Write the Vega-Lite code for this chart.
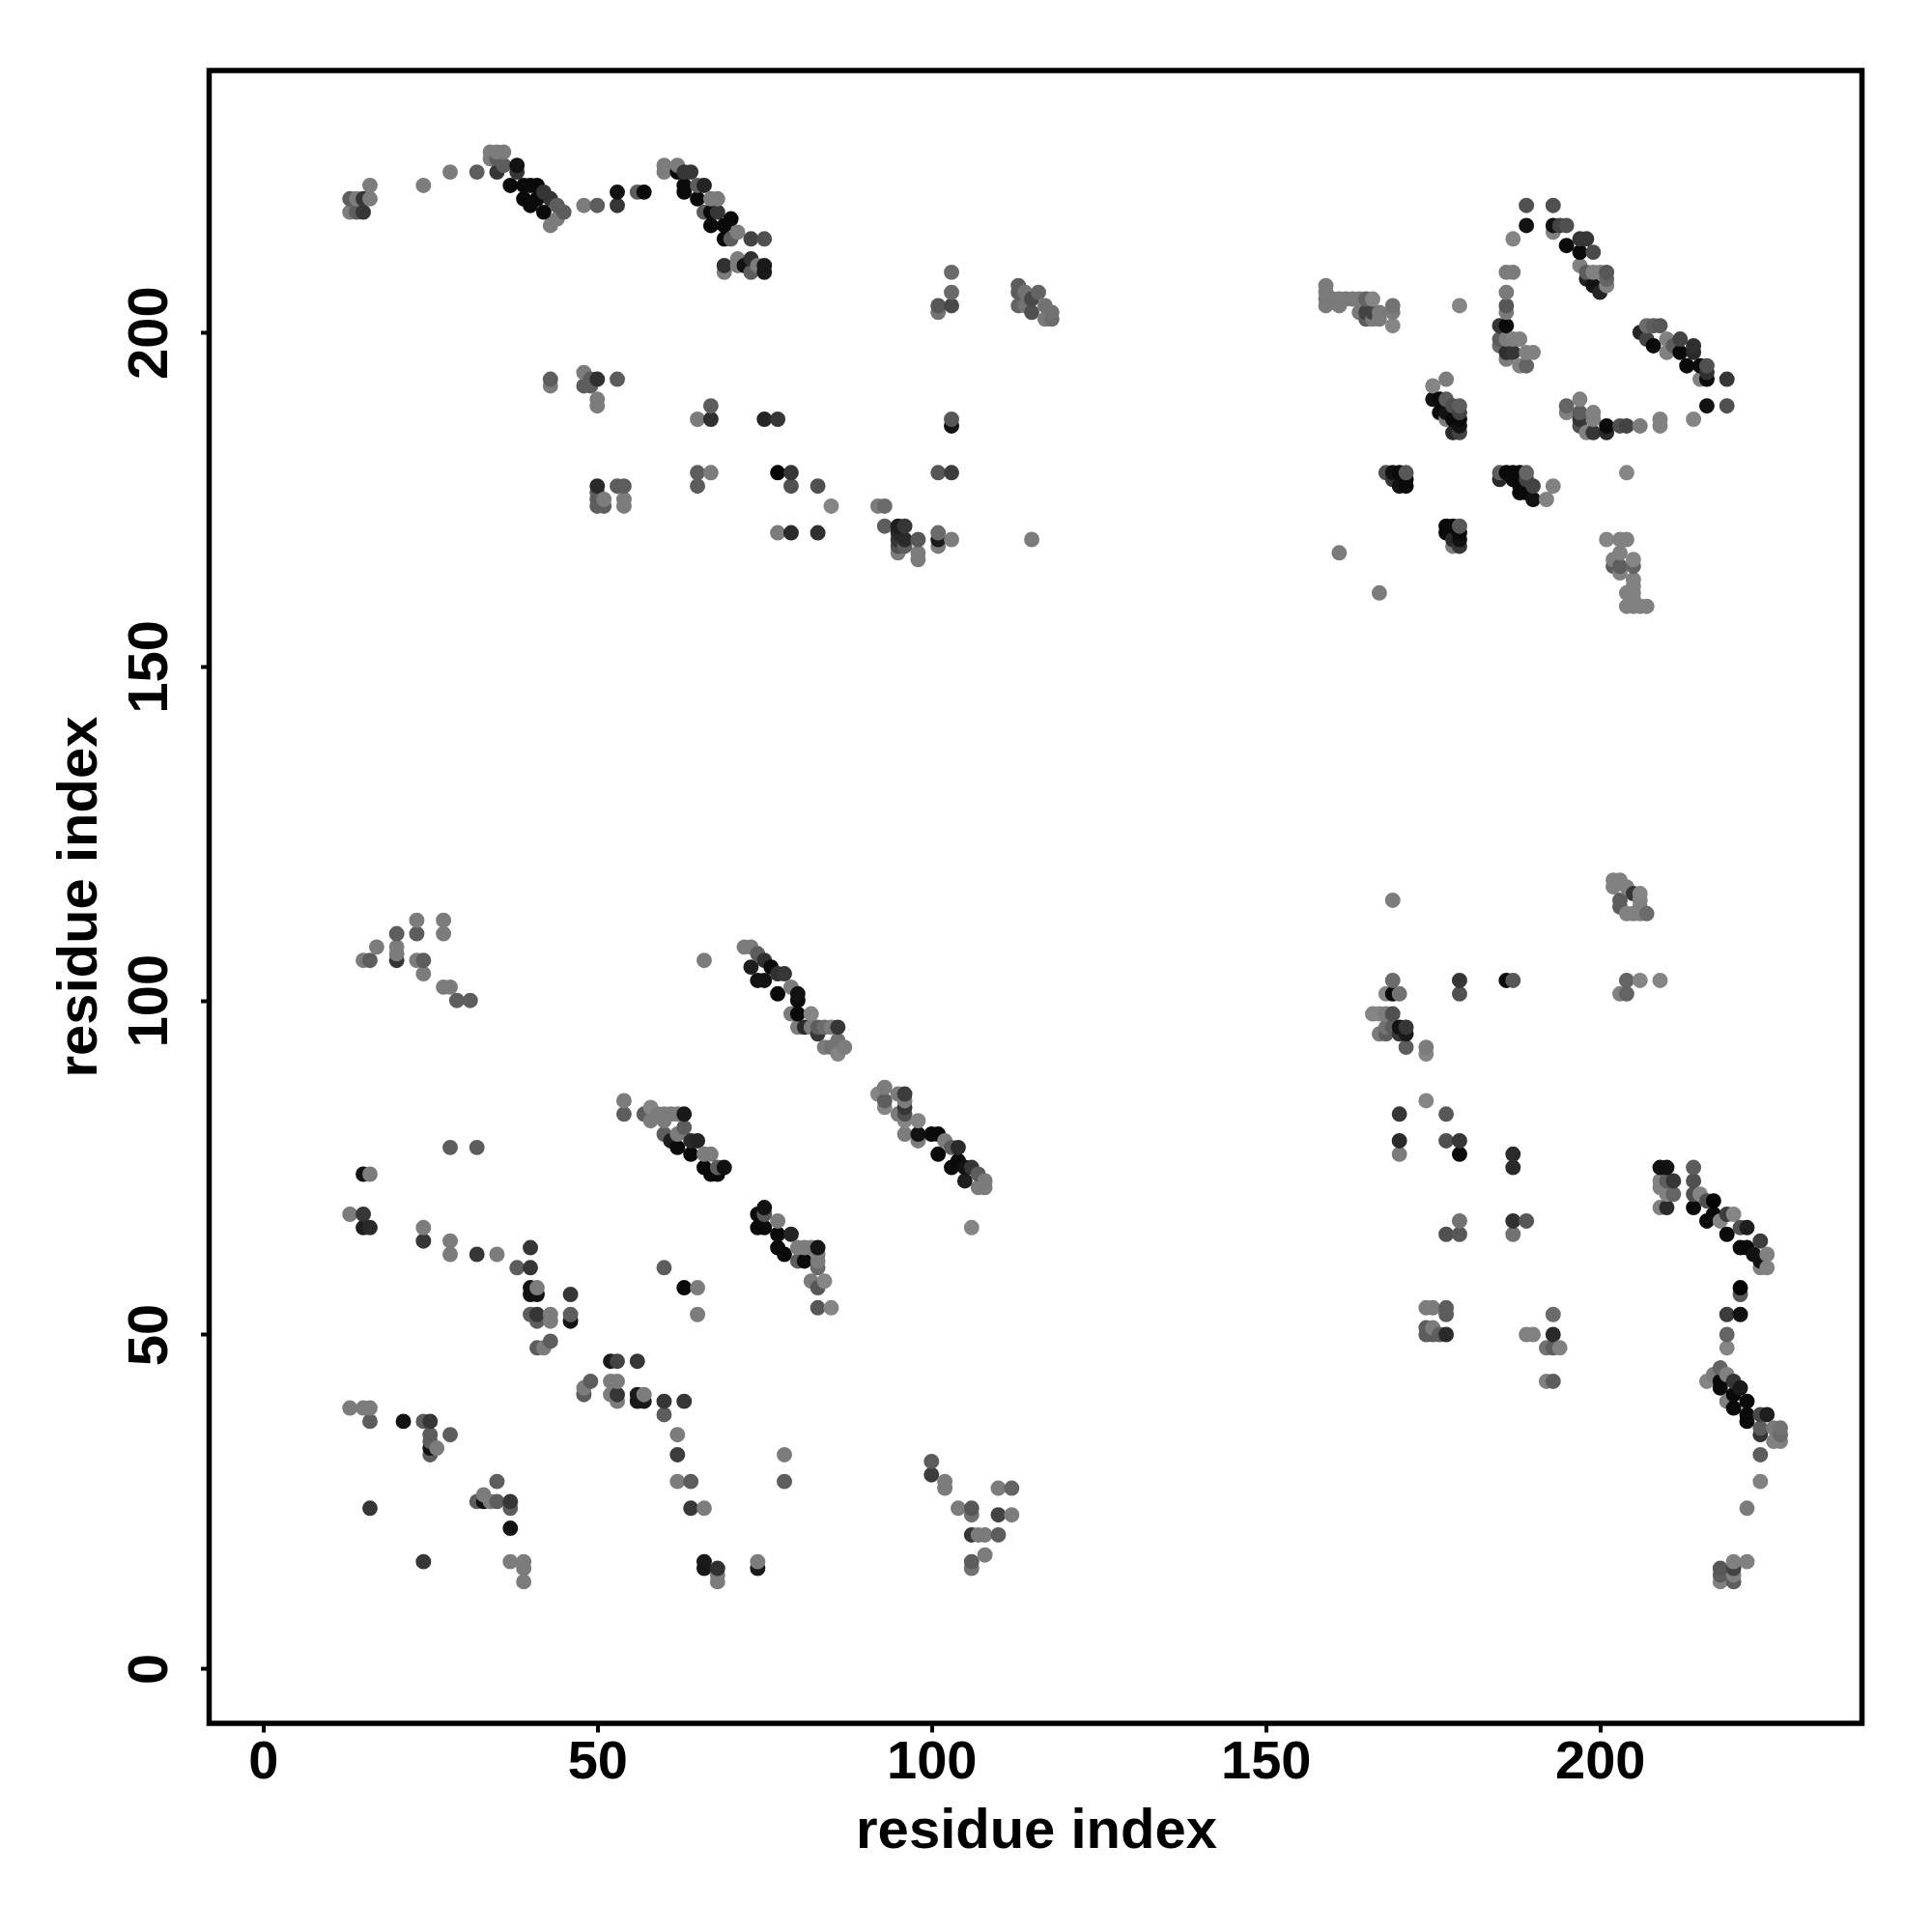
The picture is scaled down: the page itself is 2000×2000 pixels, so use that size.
{"$schema":"https://vega.github.io/schema/vega-lite/v6.json","width":1711,"height":1711,"autosize":"none","padding":{"left":216.5,"top":73,"right":72.5,"bottom":216},"background":"white","config":{"view":{"stroke":"#000000","strokeWidth":5.5,"fill":"white"}},"data":{"values":[
{"i":13,"j":39,"w":0.08},{"i":13,"j":68,"w":0.08},{"i":13,"j":218,"w":0.08},{"i":13,"j":220,"w":0.3},
{"i":14,"j":218,"w":0.3},{"i":14,"j":220,"w":0.08},
{"i":15,"j":39,"w":0.08},{"i":15,"j":66,"w":0.8},{"i":15,"j":68,"w":0.6},{"i":15,"j":74,"w":0.9},{"i":15,"j":106,"w":0.08},{"i":15,"j":218,"w":0.6},{"i":15,"j":220,"w":0.6},
{"i":16,"j":24,"w":0.6},{"i":16,"j":37,"w":0.3},{"i":16,"j":39,"w":0.08},{"i":16,"j":66,"w":0.7},{"i":16,"j":74,"w":0.08},{"i":16,"j":106,"w":0.3},{"i":16,"j":220,"w":0.08},{"i":16,"j":222,"w":0.08},
{"i":17,"j":108,"w":0.08},
{"i":20,"j":106,"w":0.6},{"i":20,"j":107,"w":0.08},{"i":20,"j":108,"w":0.08},{"i":20,"j":110,"w":0.3},
{"i":21,"j":37,"w":0.9},
{"i":23,"j":106,"w":0.08},{"i":23,"j":110,"w":0.3},{"i":23,"j":112,"w":0.08},
{"i":24,"j":16,"w":0.6},{"i":24,"j":37,"w":0.3},{"i":24,"j":64,"w":0.6},{"i":24,"j":66,"w":0.08},{"i":24,"j":104,"w":0.08},{"i":24,"j":106,"w":0.3},{"i":24,"j":222,"w":0.08},
{"i":25,"j":32,"w":0.3},{"i":25,"j":33,"w":0.9},{"i":25,"j":34,"w":0.3},{"i":25,"j":35,"w":0.3},{"i":25,"j":37,"w":0.6},
{"i":26,"j":33,"w":0.08},
{"i":27,"j":102,"w":0.08},{"i":27,"j":110,"w":0.08},{"i":27,"j":112,"w":0.08},
{"i":28,"j":35,"w":0.3},{"i":28,"j":62,"w":0.08},{"i":28,"j":64,"w":0.08},{"i":28,"j":78,"w":0.3},{"i":28,"j":102,"w":0.08},{"i":28,"j":224,"w":0.08},
{"i":29,"j":100,"w":0.3},
{"i":31,"j":100,"w":0.3},
{"i":32,"j":25,"w":0.3},{"i":32,"j":62,"w":0.6},{"i":32,"j":78,"w":0.3},{"i":32,"j":224,"w":0.3},
{"i":33,"j":25,"w":0.9},{"i":33,"j":26,"w":0.08},
{"i":34,"j":25,"w":0.08},{"i":34,"j":226,"w":0.08},{"i":34,"j":227,"w":0.08},
{"i":35,"j":25,"w":0.3},{"i":35,"j":28,"w":0.3},{"i":35,"j":62,"w":0.08},{"i":35,"j":224,"w":0.6},{"i":35,"j":226,"w":0.3},{"i":35,"j":227,"w":0.08},
{"i":36,"j":225,"w":0.3},{"i":36,"j":227,"w":0.08},
{"i":37,"j":16,"w":0.08},{"i":37,"j":21,"w":0.9},{"i":37,"j":24,"w":0.3},{"i":37,"j":25,"w":0.6},{"i":37,"j":222,"w":0.95},
{"i":38,"j":60,"w":0.3},{"i":38,"j":224,"w":0.6},{"i":38,"j":225,"w":0.9},
{"i":39,"j":13,"w":0.08},{"i":39,"j":15,"w":0.08},{"i":39,"j":16,"w":0.08},{"i":39,"j":220,"w":0.95},{"i":39,"j":222,"w":0.95},
{"i":40,"j":53,"w":0.3},{"i":40,"j":56,"w":0.9},{"i":40,"j":57,"w":0.9},{"i":40,"j":60,"w":0.6},{"i":40,"j":63,"w":0.6},{"i":40,"j":219,"w":0.95},{"i":40,"j":222,"w":0.95},
{"i":41,"j":48,"w":0.3},{"i":41,"j":52,"w":0.3},{"i":41,"j":53,"w":0.6},{"i":41,"j":56,"w":0.9},{"i":41,"j":57,"w":0.08},{"i":41,"j":220,"w":0.95},{"i":41,"j":222,"w":0.95},
{"i":42,"j":48,"w":0.08},{"i":42,"j":218,"w":0.95},{"i":42,"j":221,"w":0.6},
{"i":43,"j":49,"w":0.3},{"i":43,"j":52,"w":0.08},{"i":43,"j":53,"w":0.08},{"i":43,"j":192,"w":0.08},{"i":43,"j":193,"w":0.3},{"i":43,"j":216,"w":0.08},{"i":43,"j":220,"w":0.6},
{"i":44,"j":217,"w":0.08},{"i":44,"j":219,"w":0.3},
{"i":45,"j":218,"w":0.3},
{"i":46,"j":52,"w":0.9},{"i":46,"j":53,"w":0.3},{"i":46,"j":56,"w":0.6},
{"i":48,"j":41,"w":0.3},{"i":48,"j":42,"w":0.08},{"i":48,"j":192,"w":0.3},{"i":48,"j":194,"w":0.08},{"i":48,"j":219,"w":0.08},
{"i":49,"j":43,"w":0.3},{"i":49,"j":192,"w":0.3},{"i":49,"j":193,"w":0.3},
{"i":50,"j":174,"w":0.3},{"i":50,"j":175,"w":0.3},{"i":50,"j":176,"w":0.3},{"i":50,"j":177,"w":0.7},{"i":50,"j":189,"w":0.08},{"i":50,"j":190,"w":0.08},{"i":50,"j":193,"w":0.65},{"i":50,"j":219,"w":0.3},
{"i":51,"j":174,"w":0.3},{"i":51,"j":175,"w":0.08},
{"i":52,"j":41,"w":0.08},{"i":52,"j":43,"w":0.08},{"i":52,"j":46,"w":0.85},
{"i":53,"j":40,"w":0.08},{"i":53,"j":41,"w":0.6},{"i":53,"j":43,"w":0.08},{"i":53,"j":46,"w":0.5},{"i":53,"j":177,"w":0.3},{"i":53,"j":193,"w":0.3},{"i":53,"j":219,"w":0.6},{"i":53,"j":221,"w":0.9},
{"i":54,"j":83,"w":0.3},{"i":54,"j":85,"w":0.08},{"i":54,"j":174,"w":0.08},{"i":54,"j":175,"w":0.08},{"i":54,"j":177,"w":0.3},
{"i":56,"j":40,"w":0.85},{"i":56,"j":41,"w":0.85},{"i":56,"j":46,"w":0.6},{"i":56,"j":221,"w":0.3},
{"i":57,"j":40,"w":0.85},{"i":57,"j":41,"w":0.08},{"i":57,"j":83,"w":0.3},{"i":57,"j":221,"w":0.95},
{"i":58,"j":82,"w":0.08},{"i":58,"j":84,"w":0.02},
{"i":59,"j":83,"w":0.08},
{"i":60,"j":38,"w":0.3},{"i":60,"j":40,"w":0.6},{"i":60,"j":60,"w":0.3},{"i":60,"j":80,"w":0.3},{"i":60,"j":82,"w":0.08},{"i":60,"j":83,"w":0.08},{"i":60,"j":224,"w":0.08},{"i":60,"j":225,"w":0.08},
{"i":61,"j":79,"w":0.8},{"i":61,"j":83,"w":0.08},
{"i":62,"j":28,"w":0.08},{"i":62,"j":32,"w":0.55},{"i":62,"j":35,"w":0.08},{"i":62,"j":78,"w":0.95},{"i":62,"j":80,"w":0.08},{"i":62,"j":83,"w":0.08},{"i":62,"j":224,"w":0.95},{"i":62,"j":225,"w":0.08},
{"i":63,"j":40,"w":0.6},{"i":63,"j":57,"w":0.95},{"i":63,"j":81,"w":0.3},{"i":63,"j":83,"w":0.85},{"i":63,"j":221,"w":0.95},{"i":63,"j":222,"w":0.95},{"i":63,"j":224,"w":0.6},
{"i":64,"j":24,"w":0.6},{"i":64,"j":28,"w":0.3},{"i":64,"j":77,"w":0.95},{"i":64,"j":79,"w":0.7},{"i":64,"j":224,"w":0.6},
{"i":65,"j":53,"w":0.08},{"i":65,"j":57,"w":0.08},{"i":65,"j":79,"w":0.75},{"i":65,"j":177,"w":0.3},{"i":65,"j":179,"w":0.3},{"i":65,"j":187,"w":0.08},{"i":65,"j":220,"w":0.95},{"i":65,"j":222,"w":0.3},
{"i":66,"j":15,"w":0.85},{"i":66,"j":16,"w":0.85},{"i":66,"j":24,"w":0.08},{"i":66,"j":75,"w":0.95},{"i":66,"j":77,"w":0.08},{"i":66,"j":106,"w":0.08},{"i":66,"j":218,"w":0.3},{"i":66,"j":222,"w":0.75},
{"i":67,"j":74,"w":0.95},{"i":67,"j":77,"w":0.08},{"i":67,"j":179,"w":0.08},{"i":67,"j":187,"w":0.65},{"i":67,"j":189,"w":0.3},{"i":67,"j":216,"w":0.95},{"i":67,"j":218,"w":0.95},{"i":67,"j":220,"w":0.08},
{"i":68,"j":13,"w":0.08},{"i":68,"j":14,"w":0.08},{"i":68,"j":15,"w":0.65},{"i":68,"j":74,"w":0.95},{"i":68,"j":75,"w":0.3},{"i":68,"j":218,"w":0.6},{"i":68,"j":220,"w":0.08},
{"i":69,"j":75,"w":0.9},{"i":69,"j":209,"w":0.08},{"i":69,"j":210,"w":0.65},{"i":69,"j":214,"w":0.95},{"i":69,"j":216,"w":0.95},
{"i":70,"j":214,"w":0.3},{"i":70,"j":217,"w":0.95},
{"i":71,"j":210,"w":0.08},{"i":71,"j":211,"w":0.08},{"i":71,"j":215,"w":0.08},
{"i":72,"j":108,"w":0.08},{"i":72,"j":210,"w":0.9},
{"i":73,"j":105,"w":0.8},{"i":73,"j":108,"w":0.08},{"i":73,"j":209,"w":0.3},{"i":73,"j":211,"w":0.65},{"i":73,"j":214,"w":0.5},
{"i":74,"j":15,"w":0.85},{"i":74,"j":16,"w":0.08},{"i":74,"j":66,"w":0.95},{"i":74,"j":68,"w":0.95},{"i":74,"j":103,"w":0.9},{"i":74,"j":107,"w":0.3},{"i":74,"j":210,"w":0.08},
{"i":75,"j":66,"w":0.95},{"i":75,"j":68,"w":0.35},{"i":75,"j":69,"w":0.9},{"i":75,"j":103,"w":0.9},{"i":75,"j":106,"w":0.65},{"i":75,"j":187,"w":0.75},{"i":75,"j":209,"w":0.85},{"i":75,"j":210,"w":0.85},{"i":75,"j":214,"w":0.4},
{"i":76,"j":105,"w":0.95},
{"i":77,"j":63,"w":0.95},{"i":77,"j":65,"w":0.95},{"i":77,"j":67,"w":0.08},{"i":77,"j":101,"w":0.95},{"i":77,"j":104,"w":0.65},{"i":77,"j":170,"w":0.08},{"i":77,"j":179,"w":0.98},{"i":77,"j":187,"w":0.6},
{"i":78,"j":28,"w":0.3},{"i":78,"j":32,"w":0.08},{"i":78,"j":62,"w":0.95},{"i":78,"j":104,"w":0.6},
{"i":79,"j":65,"w":0.75},{"i":79,"j":98,"w":0.08},{"i":79,"j":102,"w":0.08},{"i":79,"j":170,"w":0.7},{"i":79,"j":177,"w":0.4},{"i":79,"j":179,"w":0.6},
{"i":80,"j":61,"w":0.3},{"i":80,"j":63,"w":0.08},{"i":80,"j":96,"w":0.08},{"i":80,"j":98,"w":0.95},{"i":80,"j":100,"w":0.95},{"i":80,"j":101,"w":0.9},
{"i":81,"j":61,"w":0.95},{"i":81,"j":63,"w":0.08},{"i":81,"j":96,"w":0.7},
{"i":82,"j":58,"w":0.08},{"i":82,"j":63,"w":0.08},{"i":82,"j":96,"w":0.08},{"i":82,"j":98,"w":0.02},
{"i":83,"j":54,"w":0.35},{"i":83,"j":57,"w":0.35},{"i":83,"j":60,"w":0.2},{"i":83,"j":61,"w":0.08},{"i":83,"j":62,"w":0.08},{"i":83,"j":63,"w":0.88},{"i":83,"j":95,"w":0.6},{"i":83,"j":96,"w":0.3},{"i":83,"j":170,"w":0.65},{"i":83,"j":177,"w":0.4},
{"i":84,"j":58,"w":0.02},{"i":84,"j":93,"w":0.08},{"i":84,"j":96,"w":0.2},
{"i":85,"j":54,"w":0.02},{"i":85,"j":93,"w":0.15},{"i":85,"j":96,"w":0.08},{"i":85,"j":174,"w":0.02},
{"i":86,"j":92,"w":0.02},{"i":86,"j":94,"w":0.15},{"i":86,"j":96,"w":0.6},
{"i":87,"j":93,"w":0.08},
{"i":92,"j":86,"w":0.02},{"i":92,"j":174,"w":0.08},
{"i":93,"j":84,"w":0.02},{"i":93,"j":85,"w":0.3},{"i":93,"j":87,"w":0.08},{"i":93,"j":171,"w":0.3},{"i":93,"j":174,"w":0.2},
{"i":95,"j":83,"w":0.08},{"i":95,"j":86,"w":0.08},{"i":95,"j":167,"w":0.08},{"i":95,"j":168,"w":0.4},{"i":95,"j":169,"w":0.6},{"i":95,"j":170,"w":0.7},{"i":95,"j":171,"w":0.8},
{"i":96,"j":80,"w":0.08},{"i":96,"j":82,"w":0.02},{"i":96,"j":83,"w":0.4},{"i":96,"j":84,"w":0.6},{"i":96,"j":85,"w":0.08},{"i":96,"j":86,"w":0.55},{"i":96,"j":168,"w":0.3},{"i":96,"j":169,"w":0.7},{"i":96,"j":171,"w":0.6},
{"i":98,"j":79,"w":0.08},{"i":98,"j":80,"w":0.9},{"i":98,"j":82,"w":0.02},{"i":98,"j":166,"w":0.08},{"i":98,"j":167,"w":0.08},{"i":98,"j":169,"w":0.35},
{"i":100,"j":29,"w":0.55},{"i":100,"j":31,"w":0.3},{"i":100,"j":80,"w":0.95},
{"i":101,"j":77,"w":0.95},{"i":101,"j":80,"w":0.95},{"i":101,"j":168,"w":0.08},{"i":101,"j":169,"w":0.85},{"i":101,"j":170,"w":0.2},{"i":101,"j":179,"w":0.35},{"i":101,"j":203,"w":0.15},{"i":101,"j":204,"w":0.35},
{"i":102,"j":27,"w":0.08},{"i":102,"j":28,"w":0.08},{"i":102,"j":79,"w":0.08},
{"i":103,"j":75,"w":0.95},{"i":103,"j":78,"w":0.3},{"i":103,"j":169,"w":0.08},{"i":103,"j":179,"w":0.55},{"i":103,"j":186,"w":0.9},{"i":103,"j":187,"w":0.35},{"i":103,"j":204,"w":0.45},{"i":103,"j":206,"w":0.2},{"i":103,"j":209,"w":0.2},
{"i":104,"j":24,"w":0.08},{"i":104,"j":76,"w":0.95},{"i":104,"j":78,"w":0.7},
{"i":105,"j":73,"w":0.8},{"i":105,"j":75,"w":0.9},
{"i":106,"j":15,"w":0.15},{"i":106,"j":16,"w":0.3},{"i":106,"j":20,"w":0.6},{"i":106,"j":23,"w":0.15},{"i":106,"j":24,"w":0.35},{"i":106,"j":66,"w":0.02},{"i":106,"j":75,"w":0.6},
{"i":107,"j":20,"w":0.1},{"i":107,"j":72,"w":0.08},{"i":107,"j":74,"w":0.3},
{"i":108,"j":17,"w":0.08},{"i":108,"j":20,"w":0.1},{"i":108,"j":72,"w":0.08},{"i":108,"j":73,"w":0.1},
{"i":110,"j":20,"w":0.3},{"i":110,"j":23,"w":0.5},{"i":110,"j":27,"w":0.08},
{"i":112,"j":23,"w":0.08},{"i":112,"j":27,"w":0.25},
{"i":113,"j":204,"w":0.25},{"i":113,"j":206,"w":0.3},{"i":113,"j":207,"w":0.3},
{"i":114,"j":204,"w":0.15},{"i":114,"j":206,"w":0.15},
{"i":115,"j":169,"w":0.08},{"i":115,"j":203,"w":0.4},{"i":115,"j":205,"w":0.45},
{"i":116,"j":206,"w":0.25},
{"i":117,"j":202,"w":0.1},{"i":117,"j":204,"w":0.15},
{"i":118,"j":202,"w":0.2},{"i":118,"j":203,"w":0.15},
{"i":159,"j":204,"w":0.1},{"i":159,"j":205,"w":0.1},{"i":159,"j":206,"w":0.08},{"i":159,"j":207,"w":0.08},
{"i":160,"j":205,"w":0.1},
{"i":161,"j":167,"w":0.08},{"i":161,"j":204,"w":0.08},{"i":161,"j":205,"w":0.1},
{"i":162,"j":205,"w":0.1},{"i":163,"j":205,"w":0.1},
{"i":164,"j":203,"w":0.1},{"i":164,"j":205,"w":0.1},
{"i":165,"j":202,"w":0.3},{"i":165,"j":203,"w":0.5},{"i":165,"j":205,"w":0.25},
{"i":166,"j":98,"w":0.02},{"i":166,"j":202,"w":0.1},{"i":166,"j":203,"w":0.5},{"i":166,"j":205,"w":0.02},
{"i":167,"j":95,"w":0.08},{"i":167,"j":98,"w":0.02},{"i":167,"j":161,"w":0.08},{"i":167,"j":202,"w":0.1},{"i":167,"j":203,"w":0.1},
{"i":168,"j":95,"w":0.3},{"i":168,"j":96,"w":0.15},{"i":168,"j":98,"w":0.08},{"i":168,"j":101,"w":0.02},{"i":168,"j":179,"w":0.4},
{"i":169,"j":96,"w":0.3},{"i":169,"j":98,"w":0.4},{"i":169,"j":101,"w":0.95},{"i":169,"j":103,"w":0.2},{"i":169,"j":115,"w":0.08},{"i":169,"j":178,"w":0.6},{"i":169,"j":179,"w":0.9},{"i":169,"j":201,"w":0.02},{"i":169,"j":203,"w":0.08},{"i":169,"j":204,"w":0.15},
{"i":170,"j":77,"w":0.08},{"i":170,"j":79,"w":0.7},{"i":170,"j":83,"w":0.6},{"i":170,"j":95,"w":0.6},{"i":170,"j":96,"w":0.9},{"i":170,"j":101,"w":0.15},{"i":170,"j":177,"w":0.9},{"i":170,"j":179,"w":0.95},
{"i":171,"j":93,"w":0.3},{"i":171,"j":95,"w":0.85},{"i":171,"j":96,"w":0.6},{"i":171,"j":177,"w":0.95},{"i":171,"j":178,"w":0.95},{"i":171,"j":179,"w":0.35},
{"i":174,"j":50,"w":0.3},{"i":174,"j":51,"w":0.3},{"i":174,"j":54,"w":0.08},{"i":174,"j":85,"w":0.02},{"i":174,"j":92,"w":0.02},{"i":174,"j":93,"w":0.08},
{"i":175,"j":50,"w":0.3},{"i":175,"j":51,"w":0.08},{"i":175,"j":54,"w":0.08},{"i":175,"j":190,"w":0.9},{"i":175,"j":192,"w":0.02},
{"i":176,"j":50,"w":0.3},{"i":176,"j":188,"w":0.95},{"i":176,"j":190,"w":0.95},
{"i":177,"j":50,"w":0.7},{"i":177,"j":53,"w":0.3},{"i":177,"j":54,"w":0.3},{"i":177,"j":65,"w":0.4},{"i":177,"j":79,"w":0.4},{"i":177,"j":83,"w":0.35},{"i":177,"j":170,"w":0.95},{"i":177,"j":171,"w":0.95},{"i":177,"j":187,"w":0.08},{"i":177,"j":188,"w":0.9},{"i":177,"j":190,"w":0.3},{"i":177,"j":193,"w":0.08},
{"i":178,"j":168,"w":0.08},{"i":178,"j":169,"w":0.7},{"i":178,"j":171,"w":0.95},{"i":178,"j":185,"w":0.7},{"i":178,"j":187,"w":0.95},{"i":178,"j":189,"w":0.4},
{"i":179,"j":65,"w":0.35},{"i":179,"j":67,"w":0.15},{"i":179,"j":77,"w":0.95},{"i":179,"j":79,"w":0.6},{"i":179,"j":101,"w":0.4},{"i":179,"j":103,"w":0.6},{"i":179,"j":168,"w":0.6},{"i":179,"j":169,"w":0.9},{"i":179,"j":170,"w":0.95},{"i":179,"j":171,"w":0.35},{"i":179,"j":185,"w":0.5},{"i":179,"j":186,"w":0.9},{"i":179,"j":187,"w":0.95},{"i":179,"j":188,"w":0.5},{"i":179,"j":189,"w":0.3},{"i":179,"j":204,"w":0.02},
{"i":185,"j":178,"w":0.7},{"i":185,"j":179,"w":0.3},{"i":185,"j":198,"w":0.2},{"i":185,"j":199,"w":0.3},{"i":185,"j":201,"w":0.6},
{"i":186,"j":103,"w":0.95},{"i":186,"j":179,"w":0.95},{"i":186,"j":196,"w":0.08},{"i":186,"j":197,"w":0.65},{"i":186,"j":199,"w":0.08},{"i":186,"j":201,"w":0.95},{"i":186,"j":203,"w":0.1},{"i":186,"j":204,"w":0.35},{"i":186,"j":206,"w":0.1},{"i":186,"j":209,"w":0.08},
{"i":187,"j":65,"w":0.15},{"i":187,"j":67,"w":0.65},{"i":187,"j":75,"w":0.7},{"i":187,"j":77,"w":0.7},{"i":187,"j":103,"w":0.35},{"i":187,"j":178,"w":0.95},{"i":187,"j":179,"w":0.95},{"i":187,"j":197,"w":0.6},{"i":187,"j":199,"w":0.05},{"i":187,"j":209,"w":0.08},{"i":187,"j":214,"w":0.02},
{"i":188,"j":176,"w":0.95},{"i":188,"j":177,"w":0.95},{"i":188,"j":179,"w":0.95},{"i":188,"j":195,"w":0.05},{"i":188,"j":199,"w":0.05},
{"i":189,"j":50,"w":0.05},{"i":189,"j":67,"w":0.35},{"i":189,"j":176,"w":0.95},{"i":189,"j":178,"w":0.5},{"i":189,"j":179,"w":0.25},{"i":189,"j":195,"w":0.25},{"i":189,"j":197,"w":0.05},{"i":189,"j":216,"w":0.9},{"i":189,"j":219,"w":0.4},
{"i":190,"j":50,"w":0.05},{"i":190,"j":175,"w":0.9},{"i":190,"j":177,"w":0.5},{"i":190,"j":197,"w":0.05},
{"i":192,"j":43,"w":0.05},{"i":192,"j":48,"w":0.15},{"i":192,"j":175,"w":0.05},
{"i":193,"j":43,"w":0.3},{"i":193,"j":48,"w":0.3},{"i":193,"j":50,"w":0.7},{"i":193,"j":53,"w":0.2},{"i":193,"j":177,"w":0.05},{"i":193,"j":215,"w":0.05},{"i":193,"j":216,"w":0.9},{"i":193,"j":219,"w":0.4},
{"i":194,"j":48,"w":0.05},{"i":194,"j":216,"w":0.5},
{"i":195,"j":188,"w":0.05},{"i":195,"j":189,"w":0.25},{"i":195,"j":213,"w":0.95},{"i":195,"j":216,"w":0.4},
{"i":197,"j":186,"w":0.4},{"i":197,"j":187,"w":0.6},{"i":197,"j":188,"w":0.3},{"i":197,"j":190,"w":0.05},{"i":197,"j":210,"w":0.05},{"i":197,"j":212,"w":0.95},{"i":197,"j":214,"w":0.6},
{"i":198,"j":185,"w":0.05},{"i":198,"j":208,"w":0.75},{"i":198,"j":209,"w":0.3},{"i":198,"j":214,"w":0.6},
{"i":199,"j":185,"w":0.6},{"i":199,"j":187,"w":0.05},{"i":199,"j":188,"w":0.05},{"i":199,"j":207,"w":0.9},{"i":199,"j":209,"w":0.05},{"i":199,"j":212,"w":0.45},
{"i":200,"j":206,"w":0.75},{"i":200,"j":209,"w":0.05},
{"i":201,"j":169,"w":0.02},{"i":201,"j":185,"w":0.7},{"i":201,"j":186,"w":0.95},{"i":201,"j":207,"w":0.05},{"i":201,"j":208,"w":0.25},{"i":201,"j":209,"w":0.35},
{"i":202,"j":117,"w":0.05},{"i":202,"j":118,"w":0.05},{"i":202,"j":165,"w":0.3},{"i":202,"j":166,"w":0.05},
{"i":203,"j":101,"w":0.05},{"i":203,"j":114,"w":0.3},{"i":203,"j":115,"w":0.3},{"i":203,"j":118,"w":0.05},{"i":203,"j":164,"w":0.05},{"i":203,"j":165,"w":0.3},{"i":203,"j":167,"w":0.05},{"i":203,"j":169,"w":0.05},{"i":203,"j":186,"w":0.4},
{"i":204,"j":101,"w":0.25},{"i":204,"j":103,"w":0.25},{"i":204,"j":113,"w":0.05},{"i":204,"j":117,"w":0.05},{"i":204,"j":159,"w":0.05},{"i":204,"j":161,"w":0.05},{"i":204,"j":169,"w":0.05},{"i":204,"j":179,"w":0.02},{"i":204,"j":186,"w":0.5},
{"i":205,"j":113,"w":0.05},{"i":205,"j":116,"w":0.6},{"i":205,"j":159,"w":0.05},{"i":205,"j":160,"w":0.05},{"i":205,"j":161,"w":0.05},{"i":205,"j":162,"w":0.05},{"i":205,"j":163,"w":0.05},{"i":205,"j":165,"w":0.25},{"i":205,"j":166,"w":0.02},
{"i":206,"j":103,"w":0.02},{"i":206,"j":113,"w":0.05},{"i":206,"j":114,"w":0.05},{"i":206,"j":115,"w":0.05},{"i":206,"j":116,"w":0.02},{"i":206,"j":159,"w":0.05},{"i":206,"j":186,"w":0.08},{"i":206,"j":200,"w":0.75},
{"i":207,"j":113,"w":0.2},{"i":207,"j":159,"w":0.05},{"i":207,"j":199,"w":0.5},{"i":207,"j":201,"w":0.2},
{"i":208,"j":198,"w":0.95},{"i":208,"j":201,"w":0.3},
{"i":209,"j":69,"w":0.05},{"i":209,"j":72,"w":0.05},{"i":209,"j":73,"w":0.05},{"i":209,"j":75,"w":0.9},{"i":209,"j":103,"w":0.02},{"i":209,"j":186,"w":0.05},{"i":209,"j":187,"w":0.05},{"i":209,"j":201,"w":0.35},
{"i":210,"j":69,"w":0.7},{"i":210,"j":71,"w":0.05},{"i":210,"j":73,"w":0.3},{"i":210,"j":75,"w":0.9},{"i":210,"j":197,"w":0.05},{"i":210,"j":199,"w":0.05},
{"i":211,"j":71,"w":0.25},{"i":211,"j":73,"w":0.6},{"i":211,"j":198,"w":0.3},
{"i":212,"j":197,"w":0.95},{"i":212,"j":199,"w":0.5},
{"i":213,"j":195,"w":0.95},
{"i":214,"j":69,"w":0.95},{"i":214,"j":71,"w":0.4},{"i":214,"j":73,"w":0.4},{"i":214,"j":75,"w":0.3},{"i":214,"j":187,"w":0.02},{"i":214,"j":197,"w":0.7},{"i":214,"j":198,"w":0.65},
{"i":215,"j":71,"w":0.02},{"i":215,"j":193,"w":0.05},{"i":215,"j":195,"w":0.95},
{"i":216,"j":43,"w":0.02},{"i":216,"j":67,"w":0.95},{"i":216,"j":70,"w":0.4},{"i":216,"j":189,"w":0.9},{"i":216,"j":193,"w":0.95},{"i":216,"j":194,"w":0.65},{"i":216,"j":195,"w":0.4},
{"i":217,"j":44,"w":0.08},{"i":217,"j":68,"w":0.95},{"i":217,"j":70,"w":0.98},
{"i":218,"j":13,"w":0.05},{"i":218,"j":14,"w":0.3},{"i":218,"j":15,"w":0.35},{"i":218,"j":42,"w":0.95},{"i":218,"j":43,"w":0.95},{"i":218,"j":45,"w":0.25},{"i":218,"j":67,"w":0.02},
{"i":219,"j":40,"w":0.05},{"i":219,"j":44,"w":0.05},{"i":219,"j":48,"w":0.02},{"i":219,"j":50,"w":0.25},{"i":219,"j":53,"w":0.55},{"i":219,"j":65,"w":0.95},{"i":219,"j":68,"w":0.55},{"i":219,"j":189,"w":0.4},{"i":219,"j":193,"w":0.6},
{"i":220,"j":13,"w":0.3},{"i":220,"j":14,"w":0.05},{"i":220,"j":15,"w":0.5},{"i":220,"j":16,"w":0.05},{"i":220,"j":39,"w":0.95},{"i":220,"j":41,"w":0.95},{"i":220,"j":43,"w":0.6},{"i":220,"j":68,"w":0.02},
{"i":221,"j":42,"w":0.85},{"i":221,"j":53,"w":0.9},{"i":221,"j":56,"w":0.35},{"i":221,"j":57,"w":0.98},{"i":221,"j":63,"w":0.95},{"i":221,"j":66,"w":0.4},
{"i":222,"j":16,"w":0.05},{"i":222,"j":24,"w":0.08},{"i":222,"j":37,"w":0.95},{"i":222,"j":38,"w":0.95},{"i":222,"j":40,"w":0.95},{"i":222,"j":63,"w":0.95},{"i":222,"j":66,"w":0.8},
{"i":223,"j":62,"w":0.9},
{"i":224,"j":28,"w":0.05},{"i":224,"j":32,"w":0.3},{"i":224,"j":35,"w":0.6},{"i":224,"j":36,"w":0.3},{"i":224,"j":38,"w":0.45},{"i":224,"j":60,"w":0.05},{"i":224,"j":61,"w":0.9},{"i":224,"j":64,"w":0.55},
{"i":225,"j":38,"w":0.8},{"i":225,"j":60,"w":0.05},{"i":225,"j":62,"w":0.05},
{"i":226,"j":34,"w":0.05},{"i":226,"j":36,"w":0.1},
{"i":227,"j":34,"w":0.05},{"i":227,"j":35,"w":0.2},{"i":227,"j":36,"w":0.15}
]},
"mark":{"type":"circle","size":254,"opacity":1},
"encoding":{
"x":{"field":"i","type":"quantitative","scale":{"domain":[-8.06,239.2],"nice":false,"zero":false},"axis":{"values":[0,50,100,150,200],"grid":false,"domain":false,"ticks":true,"tickColor":"#000000","tickWidth":4,"tickSize":9,"labelFont":"Liberation Sans","labelFontWeight":"bold","labelFontSize":56,"labelColor":"#000000","labelBaseline":"alphabetic","labelPadding":47,"labelFlush":false,"labelOverlap":false,"title":"residue index","titleFont":"Liberation Sans","titleFontWeight":"bold","titleFontSize":58,"titleColor":"#000000","titleBaseline":"alphabetic","titleAlign":"center","titleAnchor":"middle","titleX":856,"titleY":128}},
"y":{"field":"j","type":"quantitative","scale":{"domain":[-8.2,239.2],"nice":false,"zero":false},"axis":{"values":[0,50,100,150,200],"grid":false,"domain":false,"ticks":true,"tickColor":"#000000","tickWidth":4,"tickSize":9,"labelFont":"Liberation Sans","labelFontWeight":"bold","labelFontSize":58,"labelColor":"#000000","labelAngle":-90,"labelAlign":"center","labelBaseline":"alphabetic","labelPadding":35.5,"labelFlush":false,"labelOverlap":false,"title":"residue index","titleFont":"Liberation Sans","titleFontWeight":"bold","titleFontSize":58,"titleColor":"#000000","titleBaseline":"alphabetic","titleAlign":"center","titleAnchor":"middle","titleAngle":-90,"titleX":-117,"titleY":855}},
"color":{"field":"w","type":"quantitative","scale":{"domain":[0,1],"range":["#888888","#000000"]},"legend":null}
}}
